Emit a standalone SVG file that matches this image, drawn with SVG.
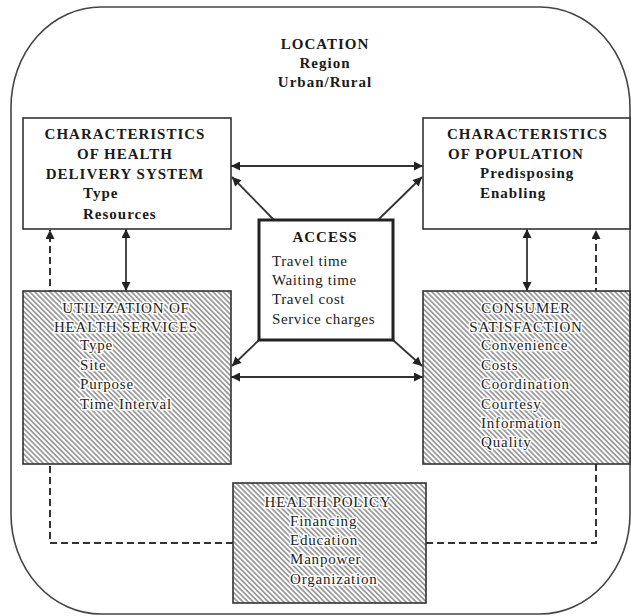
<svg xmlns="http://www.w3.org/2000/svg" width="631" height="616" viewBox="0 0 631 616">
<style>
.box{fill:#fff;stroke:#333;stroke-width:1.6}
.hbox{fill:url(#hatch);stroke:#333;stroke-width:1.6}
.bt{font-family:"Liberation Serif","Times New Roman",serif;font-weight:bold;font-size:15px;fill:#1a1a1a;letter-spacing:1px}
.rt{font-family:"Liberation Serif","Times New Roman",serif;font-size:15px;fill:#222;letter-spacing:0.6px}
.ht{font-family:"Liberation Serif","Times New Roman",serif;font-size:15px;fill:#222;letter-spacing:0.8px;stroke:#fff;stroke-width:3;paint-order:stroke;stroke-linejoin:round}
.c{text-anchor:middle}
.ln{fill:none;stroke:#333;stroke-width:1.8}
.dl{fill:none;stroke:#333;stroke-width:2;stroke-dasharray:7 4}
</style>
<defs>
<pattern id="hatch" width="3.6" height="3.6" patternUnits="userSpaceOnUse" patternTransform="rotate(45)">
<rect width="3.6" height="3.6" fill="#fff"/>
<line x1="0" y1="1.8" x2="3.6" y2="1.8" stroke="#6a6a6a" stroke-width="1.2"/>
</pattern>
<marker id="ah" viewBox="0 0 10 10" refX="10" refY="5" markerWidth="10" markerHeight="9" markerUnits="userSpaceOnUse" orient="auto-start-reverse">
<path d="M0,0 L10,5 L0,10 z" fill="#222"/>
</marker>
</defs>
<rect x="11" y="7" width="619" height="607" rx="90" ry="100" fill="#fff" stroke="#444" stroke-width="1.6"/>
<g id="location">
<text class="bt c" x="325" y="49">LOCATION</text>
<text class="bt c" x="325" y="68">Region</text>
<text class="bt c" x="325" y="87">Urban/Rural</text>
</g>
<g id="connectors">
<line class="ln" x1="231" y1="166" x2="423" y2="166" marker-start="url(#ah)" marker-end="url(#ah)"/>
<line class="ln" x1="231" y1="377" x2="423" y2="377" marker-start="url(#ah)" marker-end="url(#ah)"/>
<line class="ln" x1="274" y1="220" x2="232" y2="177" marker-end="url(#ah)"/>
<line class="ln" x1="378" y1="220" x2="422" y2="177" marker-end="url(#ah)"/>
<line class="ln" x1="259" y1="340" x2="232" y2="366" marker-end="url(#ah)"/>
<line class="ln" x1="393" y1="340" x2="422" y2="366" marker-end="url(#ah)"/>
<line class="ln" x1="126" y1="229" x2="126" y2="291" marker-start="url(#ah)" marker-end="url(#ah)"/>
<line class="ln" x1="527" y1="229" x2="527" y2="291" marker-start="url(#ah)" marker-end="url(#ah)"/>
<path class="dl" d="M233,543 H50 V230" marker-end="url(#ah)"/>
<path class="dl" d="M426,543 H596 V230" marker-end="url(#ah)"/>
</g>
<g id="hds">
<rect class="box" x="23" y="118" width="208" height="111"/>
<text class="bt c" x="125" y="139">CHARACTERISTICS</text>
<text class="bt c" x="125" y="159">OF HEALTH</text>
<text class="bt c" x="125" y="179">DELIVERY SYSTEM</text>
<text class="bt" x="83" y="198">Type</text>
<text class="bt" x="83" y="219">Resources</text>
</g>
<g id="population">
<rect class="box" x="423" y="118" width="207" height="111"/>
<text class="bt" x="447" y="139">CHARACTERISTICS</text>
<text class="bt" x="448" y="159">OF POPULATION</text>
<text class="bt" x="480" y="178">Predisposing</text>
<text class="bt" x="480" y="198">Enabling</text>
</g>
<g id="access">
<rect x="259" y="220" width="134" height="120" fill="#fff" stroke="#222" stroke-width="3"/>
<text class="bt c" x="325" y="242">ACCESS</text>
<text class="rt" x="272" y="266">Travel time</text>
<text class="rt" x="272" y="285">Waiting time</text>
<text class="rt" x="272" y="304">Travel cost</text>
<text class="rt" x="272" y="324">Service charges</text>
</g>
<g id="utilization">
<rect class="hbox" x="23" y="291" width="208" height="173"/>
<text class="ht c" x="126" y="313">UTILIZATION OF</text>
<text class="ht c" x="126" y="332">HEALTH SERVICES</text>
<text class="ht" x="80" y="350">Type</text>
<text class="ht" x="80" y="370">Site</text>
<text class="ht" x="80" y="389">Purpose</text>
<text class="ht" x="80" y="409">Time Interval</text>
</g>
<g id="consumer">
<rect class="hbox" x="423" y="291" width="207" height="173"/>
<text class="ht c" x="526" y="313">CONSUMER</text>
<text class="ht c" x="526" y="332">SATISFACTION</text>
<text class="ht" x="481" y="350">Convenience</text>
<text class="ht" x="481" y="370">Costs</text>
<text class="ht" x="481" y="389">Coordination</text>
<text class="ht" x="481" y="409">Courtesy</text>
<text class="ht" x="481" y="428">Information</text>
<text class="ht" x="481" y="447">Quality</text>
</g>
<g id="policy">
<rect class="hbox" x="233" y="483" width="193" height="120"/>
<text class="ht c" x="328" y="507">HEALTH POLICY</text>
<text class="ht" x="290" y="526">Financing</text>
<text class="ht" x="290" y="545">Education</text>
<text class="ht" x="290" y="564">Manpower</text>
<text class="ht" x="290" y="584">Organization</text>
</g>
</svg>
